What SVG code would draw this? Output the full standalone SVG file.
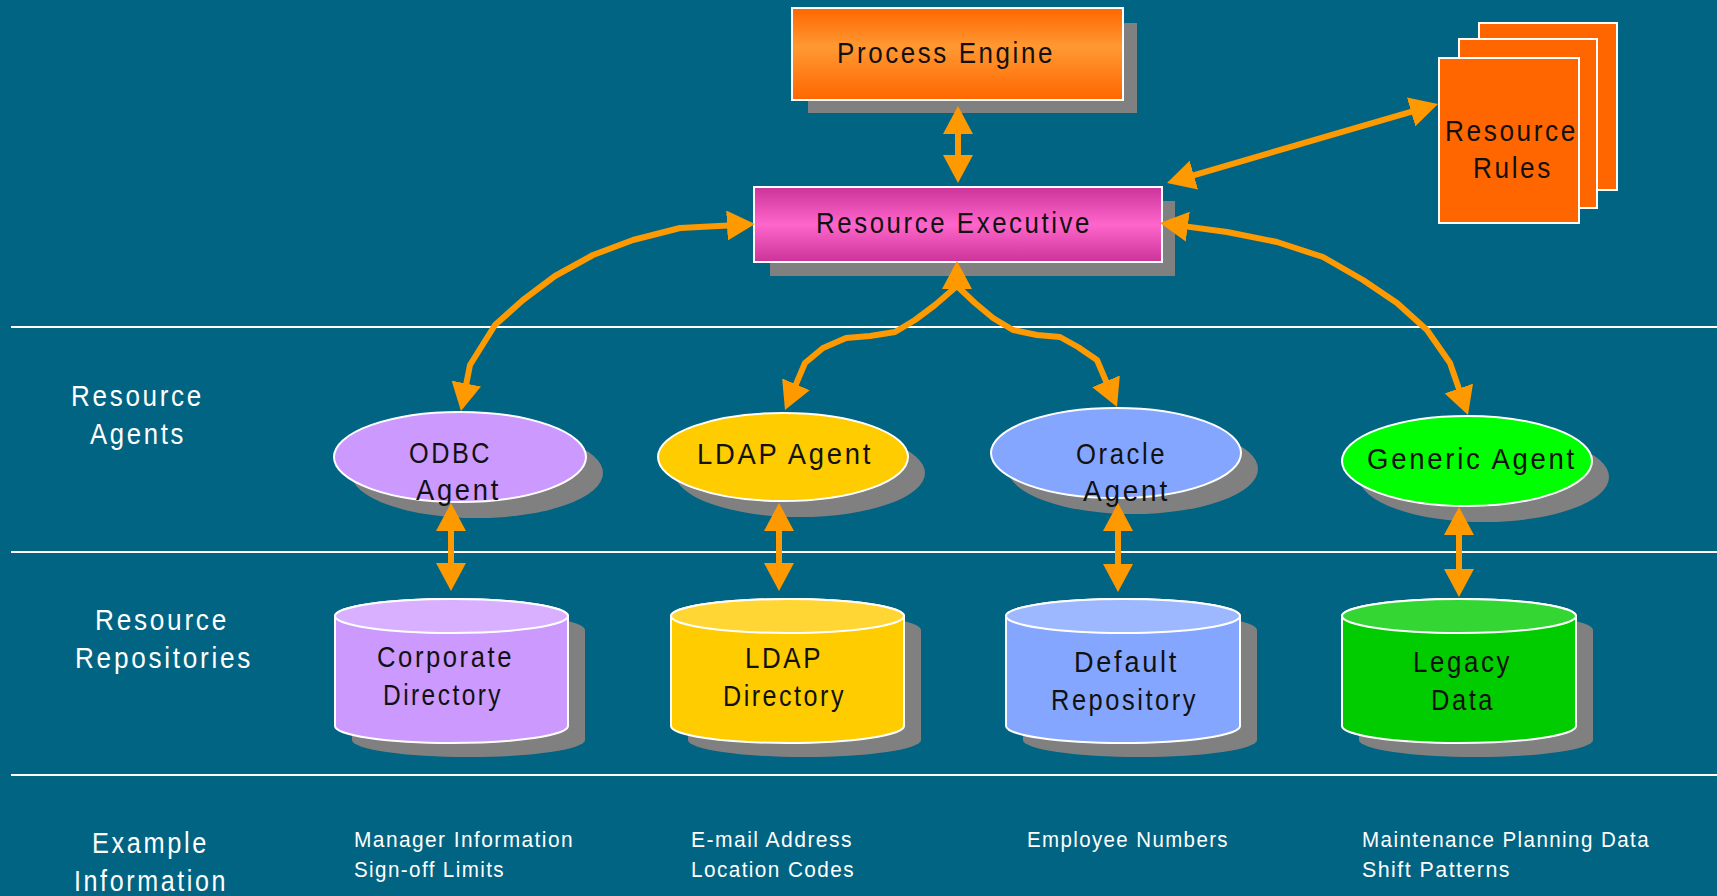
<svg xmlns="http://www.w3.org/2000/svg" width="1717" height="896" viewBox="0 0 1717 896">
<defs>
<style>
.bg{fill:#006482}
.sep{stroke:#fff;stroke-width:2}
.sh{fill:#808080}
.bx{stroke:#fff;stroke-width:2}
.t{font-family:"Liberation Sans",Arial,sans-serif;letter-spacing:3px}
.nt{fill:#111;font-size:30px}
.lbl{fill:#fff;font-size:29px}
.ex{fill:#fff;font-size:22px;letter-spacing:1.5px}
.edge{fill:none;stroke:#FF9900;stroke-width:6;stroke-linejoin:round;marker-end:url(#ah)}
.both{marker-start:url(#ah)}
</style>
<linearGradient id="gOr" x1="0" y1="0" x2="0" y2="1">
<stop offset="0" stop-color="#FF6600"/><stop offset="0.42" stop-color="#FF9933"/><stop offset="1" stop-color="#FF6600"/>
</linearGradient>
<linearGradient id="gPk" x1="0" y1="0" x2="0" y2="1">
<stop offset="0" stop-color="#CC3399"/><stop offset="0.5" stop-color="#FF66CC"/><stop offset="1" stop-color="#CC3399"/>
</linearGradient>
<marker id="ah" markerUnits="userSpaceOnUse" markerWidth="28" markerHeight="30" viewBox="0 0 28 30" refX="6" refY="15" orient="auto-start-reverse">
<path d="M0,0 L28,15 L0,30 Z" fill="#FF9900"/>
</marker>
</defs>
<rect class="bg" x="0" y="0" width="1717" height="896"/>

<g id="separators">
<line class="sep" x1="11" y1="327" x2="1717" y2="327"/>
<line class="sep" x1="11" y1="552" x2="1717" y2="552"/>
<line class="sep" x1="11" y1="775" x2="1717" y2="775"/>
</g>

<g id="row-labels" class="t lbl">
<text x="71" y="406" textLength="133" lengthAdjust="spacingAndGlyphs">Resource</text>
<text x="90" y="444" textLength="96" lengthAdjust="spacingAndGlyphs">Agents</text>
<text x="95" y="630" textLength="134" lengthAdjust="spacingAndGlyphs">Resource</text>
<text x="75" y="668" textLength="178" lengthAdjust="spacingAndGlyphs">Repositories</text>
<text x="92" y="853" textLength="117" lengthAdjust="spacingAndGlyphs">Example</text>
<text x="74" y="891" textLength="154" lengthAdjust="spacingAndGlyphs">Information</text>
</g>

<g id="process-engine">
<rect class="sh" x="808" y="23" width="329" height="90"/>
<rect class="bx" x="792" y="8" width="331" height="92" fill="url(#gOr)"/>
<text class="t nt" x="837" y="63" textLength="218" lengthAdjust="spacingAndGlyphs">Process Engine</text>
</g>

<g id="resource-executive">
<rect class="sh" x="770" y="201" width="405" height="75"/>
<rect class="bx" x="754" y="187" width="408" height="75" fill="url(#gPk)"/>
<text class="t nt" x="816" y="233" textLength="276" lengthAdjust="spacingAndGlyphs">Resource Executive</text>
</g>

<g id="resource-rules">
<rect class="bx" x="1479" y="23" width="138" height="167" fill="#FF6600" stroke-width="2.5"/>
<rect class="bx" x="1459" y="39" width="138" height="169" fill="#FF6600" stroke-width="2.5"/>
<rect class="bx" x="1439" y="58" width="140" height="165" fill="#FF6600" stroke-width="2.5"/>
<text class="t nt" x="1445" y="141" textLength="133" lengthAdjust="spacingAndGlyphs">Resource</text>
<text class="t nt" x="1473" y="178" textLength="80" lengthAdjust="spacingAndGlyphs">Rules</text>
</g>

<g id="odbc-agent">
<ellipse class="sh" cx="477" cy="473" rx="126" ry="45"/>
<ellipse class="bx" cx="460" cy="457" rx="126" ry="45" fill="#CC99FF"/>
<text class="t nt" x="409" y="463" textLength="83" lengthAdjust="spacingAndGlyphs">ODBC</text>
<text class="t nt" x="416" y="500" textLength="85" lengthAdjust="spacingAndGlyphs">Agent</text>
</g>

<g id="ldap-agent">
<ellipse class="sh" cx="800" cy="473" rx="125" ry="44"/>
<ellipse class="bx" cx="783" cy="457" rx="125" ry="44" fill="#FFCC00"/>
<text class="t nt" x="697" y="464" textLength="176" lengthAdjust="spacingAndGlyphs">LDAP Agent</text>
</g>

<g id="oracle-agent">
<ellipse class="sh" cx="1133" cy="469" rx="125" ry="45"/>
<ellipse class="bx" cx="1116" cy="453" rx="125" ry="45" fill="#85A6FF"/>
<text class="t nt" x="1076" y="464" textLength="91" lengthAdjust="spacingAndGlyphs">Oracle</text>
<text class="t nt" x="1083" y="501" textLength="87" lengthAdjust="spacingAndGlyphs">Agent</text>
</g>

<g id="generic-agent">
<ellipse class="sh" cx="1484" cy="477" rx="125" ry="45"/>
<ellipse class="bx" cx="1467" cy="461" rx="125" ry="45" fill="#00FF00"/>
<text class="t nt" x="1367" y="469" textLength="210" lengthAdjust="spacingAndGlyphs">Generic Agent</text>
</g>

<g id="corporate-directory">
<path class="sh" d="M352,630 L352,740 A116.5,17 0 0 0 585,740 L585,630 A116.5,17 0 0 0 352,630 Z"/>
<path class="bx" fill="#CC99FF" d="M335,616 L335,726 A116.5,17 0 0 0 568,726 L568,616 A116.5,17 0 0 0 335,616 Z"/>
<ellipse class="bx" cx="451.5" cy="616" rx="116.5" ry="17" fill="#D8B0FF"/>
<text class="t nt" x="377" y="667" textLength="137" lengthAdjust="spacingAndGlyphs">Corporate</text>
<text class="t nt" x="383" y="705" textLength="120" lengthAdjust="spacingAndGlyphs">Directory</text>
</g>

<g id="ldap-directory">
<path class="sh" d="M688,630 L688,740 A116.5,17 0 0 0 921,740 L921,630 A116.5,17 0 0 0 688,630 Z"/>
<path class="bx" fill="#FFCC00" d="M671,616 L671,726 A116.5,17 0 0 0 904,726 L904,616 A116.5,17 0 0 0 671,616 Z"/>
<ellipse class="bx" cx="787.5" cy="616" rx="116.5" ry="17" fill="#FFD633"/>
<text class="t nt" x="745" y="668" textLength="78" lengthAdjust="spacingAndGlyphs">LDAP</text>
<text class="t nt" x="723" y="706" textLength="123" lengthAdjust="spacingAndGlyphs">Directory</text>
</g>

<g id="default-repository">
<path class="sh" d="M1023,630 L1023,740 A117,17 0 0 0 1257,740 L1257,630 A117,17 0 0 0 1023,630 Z"/>
<path class="bx" fill="#85A6FF" d="M1006,616 L1006,726 A117,17 0 0 0 1240,726 L1240,616 A117,17 0 0 0 1006,616 Z"/>
<ellipse class="bx" cx="1123" cy="616" rx="117" ry="17" fill="#9DB8FF"/>
<text class="t nt" x="1074" y="672" textLength="105" lengthAdjust="spacingAndGlyphs">Default</text>
<text class="t nt" x="1051" y="710" textLength="147" lengthAdjust="spacingAndGlyphs">Repository</text>
</g>

<g id="legacy-data">
<path class="sh" d="M1359,630 L1359,740 A117,17 0 0 0 1593,740 L1593,630 A117,17 0 0 0 1359,630 Z"/>
<path class="bx" fill="#00CC00" d="M1342,616 L1342,726 A117,17 0 0 0 1576,726 L1576,616 A117,17 0 0 0 1342,616 Z"/>
<ellipse class="bx" cx="1459" cy="616" rx="117" ry="17" fill="#33D633"/>
<text class="t nt" x="1413" y="672" textLength="99" lengthAdjust="spacingAndGlyphs">Legacy</text>
<text class="t nt" x="1431" y="710" textLength="64" lengthAdjust="spacingAndGlyphs">Data</text>
</g>

<g id="example-info" class="t ex">
<text x="354" y="847" textLength="220" lengthAdjust="spacingAndGlyphs">Manager Information</text>
<text x="354" y="877" textLength="151" lengthAdjust="spacingAndGlyphs">Sign-off Limits</text>
<text x="691" y="847" textLength="162" lengthAdjust="spacingAndGlyphs">E-mail Address</text>
<text x="691" y="877" textLength="164" lengthAdjust="spacingAndGlyphs">Location Codes</text>
<text x="1027" y="847" textLength="202" lengthAdjust="spacingAndGlyphs">Employee Numbers</text>
<text x="1362" y="847" textLength="288" lengthAdjust="spacingAndGlyphs">Maintenance Planning Data</text>
<text x="1362" y="877" textLength="149" lengthAdjust="spacingAndGlyphs">Shift Patterns</text>
</g>

<g id="connectors">
<path class="edge both" d="M958,128 L958,161"/>
<path class="edge both" d="M1188.1,176.8 L1416.9,110.2"/>
<path class="edge both" d="M1181.8,225.9 L1227,232 L1277,242 L1323,257 L1363,280 L1397,303 L1427,330 L1450,363 L1460.8,394.2"/>
<path class="edge both" d="M733,225.2 L680,228 L633,240 L593,255 L555,276 L523,300 L495,325 L470,365 L465.2,389.4"/>
<path class="edge both" d="M957,283 L957,286 L935,305 L915,320 L895,332 L870,336 L846,338 L823,348 L805,363 L793.6,389.8"/>
<path class="edge" d="M957,286 L975,303 L993,318 L1013,330 L1037,335 L1060,337 L1078,347 L1097,360 L1108.4,386.8"/>
<path class="edge both" d="M451,525 L451,569"/>
<path class="edge both" d="M779,525 L779,569"/>
<path class="edge both" d="M1118,525 L1118,570"/>
<path class="edge both" d="M1459,529 L1459,575"/>
</g>
</svg>
